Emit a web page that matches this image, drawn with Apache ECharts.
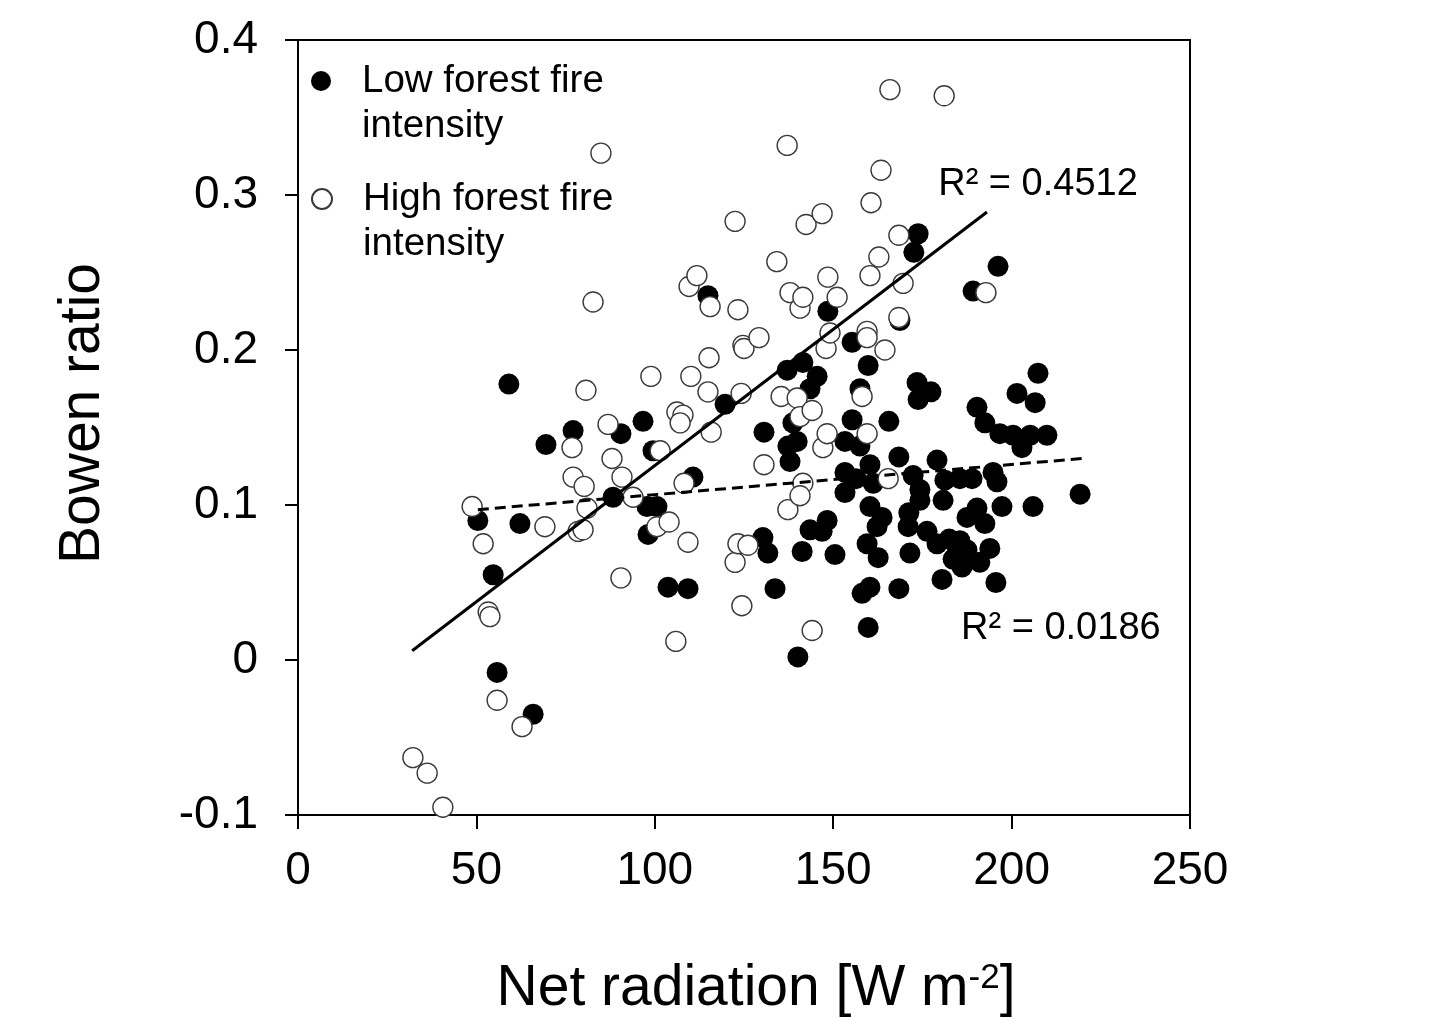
<!DOCTYPE html>
<html>
<head>
<meta charset="utf-8">
<script src="https://cdn.jsdelivr.net/npm/echarts@6/dist/echarts.min.js"></script>
<style>
  html, body { margin: 0; padding: 0; background: #fff; }
  #chart { width: 1440px; height: 1018px; }
</style>
</head>
<body>
<div id="chart"></div>
<script>
// ---- Data ----
// Low forest fire intensity (filled circles): [net radiation, Bowen ratio]
const lowFire = [
  [50.4,0.090],[54.7,0.055],[55.8,-0.008],[59.1,0.178],[62.2,0.088],[65.9,-0.035],
  [69.5,0.139],[77.1,0.148],[88.3,0.105],[90.5,0.146],[96.7,0.154],[97.8,0.099],
  [100.6,0.099],[98.1,0.081],[99.5,0.135],[103.7,0.047],[109.3,0.046],[110.7,0.118],
  [114.9,0.235],[119.7,0.165],[130.6,0.147],[130.3,0.079],[131.7,0.069],[133.7,0.046],
  [137.1,0.187],[141.5,0.192],[145.5,0.183],[143.5,0.175],[138.7,0.153],[137.3,0.138],
  [139.9,0.141],[137.9,0.128],[155.3,0.205],[159.8,0.190],[157.5,0.175],[173.5,0.179],
  [177.4,0.173],[173.8,0.168],[155.3,0.155],[165.6,0.154],[153.3,0.141],[157.5,0.138],
  [168.4,0.131],[160.3,0.126],[179.1,0.129],[153.3,0.121],[156.4,0.117],[161.2,0.114],
  [172.4,0.119],[174.3,0.110],[181.3,0.116],[185.5,0.117],[188.9,0.117],[194.8,0.121],
  [195.9,0.115],[153.3,0.108],[174.3,0.103],[180.8,0.103],[160.3,0.099],[163.7,0.092],
  [162.3,0.086],[148.3,0.090],[143.5,0.084],[146.9,0.083],[171.2,0.095],[171.0,0.086],
  [176.3,0.083],[179.1,0.075],[182.5,0.078],[185.5,0.077],[184.7,0.069],[187.5,0.071],
  [187.5,0.092],[190.3,0.098],[192.5,0.088],[197.3,0.099],[206.0,0.099],[219.2,0.107],
  [193.9,0.072],[191.1,0.063],[186.1,0.060],[183.6,0.065],[180.5,0.052],[195.6,0.050],
  [141.3,0.070],[150.5,0.068],[159.5,0.075],[162.6,0.066],[171.5,0.069],[158.1,0.043],
  [160.3,0.047],[168.4,0.046],[159.8,0.021],[140.1,0.002],[190.3,0.163],[192.5,0.153],
  [196.7,0.146],[200.4,0.145],[202.9,0.137],[205.2,0.145],[209.9,0.145],[201.5,0.172],
  [206.6,0.166],[207.4,0.185],[168.7,0.219],[173.8,0.275],[172.6,0.263],[196.2,0.254],
  [189.2,0.238],[148.5,0.225]
];
// High forest fire intensity (open circles)
const highFire = [
  [32.2,-0.063],[36.2,-0.073],[40.6,-0.095],[48.8,0.099],[51.9,0.075],[53.3,0.031],
  [53.8,0.028],[55.8,-0.026],[62.8,-0.043],[69.2,0.086],[76.8,0.137],[77.1,0.118],
  [78.5,0.083],[79.9,0.084],[80.2,0.112],[80.7,0.174],[81.0,0.098],[82.7,0.231],
  [84.9,0.327],[86.9,0.152],[88.0,0.130],[90.5,0.053],[90.8,0.118],[93.9,0.105],
  [98.9,0.183],[100.6,0.086],[101.5,0.135],[104.0,0.089],[105.9,0.012],[106.2,0.160],
  [107.9,0.158],[107.1,0.153],[108.2,0.114],[109.3,0.076],[109.6,0.241],[111.8,0.248],
  [110.1,0.183],[115.2,0.195],[115.5,0.228],[114.9,0.173],[115.8,0.147],[122.5,0.283],
  [122.5,0.063],[123.3,0.075],[123.3,0.226],[124.4,0.035],[124.2,0.172],[124.7,0.203],
  [125.0,0.201],[126.1,0.074],[129.2,0.208],[130.6,0.126],[134.2,0.257],[135.4,0.170],
  [137.1,0.332],[137.3,0.097],[137.9,0.237],[139.9,0.169],[140.7,0.157],[144.1,0.161],
  [140.7,0.227],[141.5,0.234],[142.4,0.281],[146.9,0.288],[141.5,0.114],[140.7,0.106],
  [144.1,0.019],[147.1,0.137],[148.3,0.146],[148.0,0.201],[148.5,0.247],[149.1,0.211],
  [151.1,0.234],[158.1,0.170],[159.5,0.146],[159.5,0.212],[159.5,0.208],[160.3,0.248],
  [160.6,0.295],[162.8,0.260],[163.4,0.316],[164.5,0.200],[165.4,0.117],[165.9,0.368],
  [168.4,0.274],[168.4,0.221],[169.6,0.243],[181.1,0.364],[192.8,0.237]
];
// Trend line end points
const trendHigh = [[32.0,0.006],[193.1,0.289]];
const trendLow  = [[50.4,0.097],[219.7,0.130]];
const r2High = 'R² = 0.4512';
const r2Low  = 'R² = 0.0186';
const xTickLabels = ['0','50','100','150','200','250'];
const yTickLabels = ['-0.1','0','0.1','0.2','0.3','0.4'];
const seriesNames = ['Low forest fire intensity','High forest fire intensity'];

const FONT = '"Liberation Sans", Arial, Helvetica, sans-serif';
const chart = echarts.init(document.getElementById('chart'), null, {renderer: 'canvas'});

function legendCfg(name, top) {
  return {
    data: [name],
    left: 311, top: top, padding: 0,
    orient: 'vertical',
    itemWidth: 20, itemHeight: 20,
    selectedMode: false,
    // a leading empty line keeps the first text line level with the marker
    formatter: n => '\n' + n.replace(' intensity', '\nintensity'),
    textStyle: { fontFamily: FONT, fontSize: 38.5, color: '#000', lineHeight: 45, padding: [0, 0, 0, 26] }
  };
}

chart.setOption({
  animation: false,
  backgroundColor: '#fff',
  grid: { left: 298, right: 250, top: 40, bottom: 203, outerBoundsMode: 'none', containLabel: false,
    show: true, borderColor: '#000', borderWidth: 2, backgroundColor: 'transparent' },
  legend: [legendCfg(seriesNames[0], 13.5), legendCfg(seriesNames[1], 131.5)],
  xAxis: {
    type: 'value', min: 0, max: 250, interval: 50,
    name: 'Net radiation [W m{sup|-2}]',
    nameLocation: 'middle', nameGap: 146,
    nameTextStyle: { fontFamily: FONT, fontSize: 57, color: '#000',
      rich: { sup: { fontFamily: FONT, fontSize: 35, color: '#000', verticalAlign: 'top', padding: [0, 0, 22, 0] } },
      padding: [0, 0, 0, 24] },
    axisLine: { show: true, onZero: false, lineStyle: { color: '#000', width: 2 } },
    axisTick: { show: true, inside: false, length: 14, lineStyle: { color: '#000', width: 2 } },
    axisLabel: { fontFamily: FONT, fontSize: 46, color: '#000', margin: 33,
      formatter: v => xTickLabels[Math.round(v / 50)] },
    splitLine: { show: false }
  },
  yAxis: {
    type: 'value', min: -0.1, max: 0.4, interval: 0.1,
    name: 'Bowen ratio',
    nameLocation: 'middle', nameGap: 186,
    nameTextStyle: { fontFamily: FONT, fontSize: 57, color: '#000', padding: [0, 0, 0, 28] },
    axisLine: { show: true, onZero: false, lineStyle: { color: '#000', width: 2 } },
    axisTick: { show: true, inside: false, length: 13, lineStyle: { color: '#000', width: 2 } },
    axisLabel: { fontFamily: FONT, fontSize: 46, color: '#000', margin: 40,
      formatter: v => yTickLabels[Math.round((v + 0.1) / 0.1)] },
    splitLine: { show: false }
  },
  series: [
    {
      name: seriesNames[0], type: 'scatter', data: lowFire, symbol: 'circle', symbolSize: 21, z: 2,
      itemStyle: { color: '#000', borderColor: '#000', borderWidth: 0, opacity: 1 }
    },
    {
      name: seriesNames[1], type: 'scatter', data: highFire, symbol: 'circle', symbolSize: 20, z: 3,
      itemStyle: { color: '#fff', borderColor: '#3a3a3a', borderWidth: 1.4, opacity: 1 }
    },
    {
      name: 'High trend', type: 'line', data: trendHigh, showSymbol: false, symbol: 'none', z: 5,
      lineStyle: { color: '#000', width: 3, type: 'solid' },
      markPoint: { symbol: 'circle', symbolSize: 0, silent: true,
        label: { show: true, position: 'inside', formatter: r2High, fontFamily: FONT, fontSize: 38, color: '#000' },
        data: [{ coord: [207.4, 0.3065] }] }
    },
    {
      name: 'Low trend', type: 'line', data: trendLow, showSymbol: false, symbol: 'none', z: 5,
      lineStyle: { color: '#000', width: 3, type: [11, 6] },
      markPoint: { symbol: 'circle', symbolSize: 0, silent: true,
        label: { show: true, position: 'inside', formatter: r2Low, fontFamily: FONT, fontSize: 38, color: '#000' },
        data: [{ coord: [213.8, 0.020] }] }
    }
  ]
});
</script>
</body>
</html>
